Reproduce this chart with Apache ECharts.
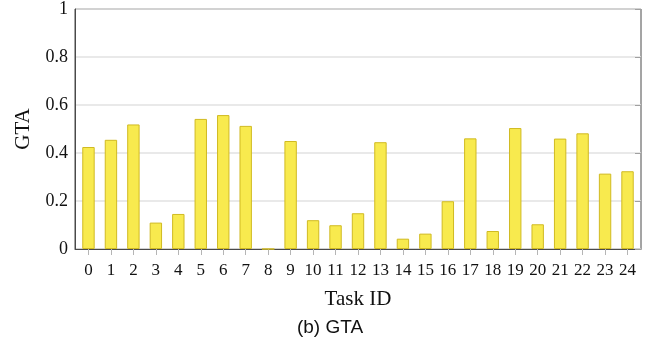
<!DOCTYPE html>
<html>
<head>
<meta charset="utf-8">
<script src="https://cdn.jsdelivr.net/npm/echarts@6/dist/echarts.min.js"></script>
<style>
  html, body { margin: 0; padding: 0; background: #fff; }
  #chart { width: 649px; height: 353px; }
</style>
</head>
<body>
<div id="chart"></div>
<script>
// Task identifiers along the x axis
const taskIds = [0, 1, 2, 3, 4, 5, 6, 7, 8, 9, 10, 11, 12, 13, 14, 15, 16, 17, 18, 19, 20, 21, 22, 23, 24];
// GTA score per task
const gtaValues = [0.425, 0.455, 0.519, 0.110, 0.146, 0.542, 0.558, 0.513, 0.000, 0.450,
                   0.120, 0.099, 0.149, 0.445, 0.043, 0.064, 0.199, 0.461, 0.075, 0.504,
                   0.103, 0.460, 0.482, 0.314, 0.324];
// y-axis tick values
const yTicks = [0, 0.2, 0.4, 0.6, 0.8, 1];

const serif = '"Liberation Serif", "DejaVu Serif", serif';
const frameColor = '#4a4a4a';

const chart = echarts.init(document.getElementById('chart'), null, { renderer: 'canvas' });

chart.setOption({
  animation: false,
  backgroundColor: '#ffffff',
  grid: {
    left: 75, right: 8, top: 9, bottom: 104,
    show: true, borderColor: frameColor, borderWidth: 1, backgroundColor: 'transparent'
  },
  xAxis: {
    type: 'value',
    min: -0.6,
    max: 24.6,
    name: 'Task ID',
    nameLocation: 'middle',
    nameGap: 40,
    nameTextStyle: { fontFamily: serif, fontSize: 21, color: '#111' },
    axisLine: { show: true, onZero: false, lineStyle: { color: frameColor, width: 1 } },
    axisTick: {
      show: true, inside: false, length: 6,
      customValues: taskIds,
      lineStyle: { color: '#b5b5b5', width: 1 }
    },
    axisLabel: {
      customValues: taskIds,
      margin: 13,
      fontFamily: serif, fontSize: 17, color: '#111'
    },
    splitLine: { show: false }
  },
  yAxis: [{
    type: 'value',
    min: 0, max: 1, interval: 0.2,
    name: 'GTA',
    nameLocation: 'middle',
    nameRotate: 90,
    nameGap: 41,
    nameTextStyle: { fontFamily: serif, fontSize: 21, color: '#111' },
    axisLine: { show: true, onZero: false, lineStyle: { color: frameColor, width: 1 } },
    axisTick: { show: false },
    axisLabel: {
      margin: 7,
      fontFamily: serif, fontSize: 18, color: '#111',
      formatter: v => (yTicks.includes(+v.toFixed(1)) ? String(+v.toFixed(1)) : '')
    },
    splitLine: { show: true, lineStyle: { color: '#e2e2e2', width: 1.5 } }
  }, {
    type: 'value',
    position: 'right',
    min: 0, max: 1, interval: 0.2,
    axisLine: { show: false, onZero: false },
    axisTick: { show: true, inside: true, length: 6, lineStyle: { color: '#a0a0a0', width: 1 } },
    axisLabel: { show: false },
    splitLine: { show: false }
  }],
  series: [{
    type: 'bar',
    yAxisIndex: 0,
    barWidth: 12.4,
    data: taskIds.map((id, i) => [id, gtaValues[i]]),
    itemStyle: { color: '#f8ea4e', borderColor: '#d0ba22', borderWidth: 1 },
    emphasis: { disabled: true }
  }],
  graphic: [{
    type: 'text',
    x: 330, y: 328,
    style: {
      text: '(b) GTA',
      font: '19px "Liberation Sans", Arial, sans-serif',
      fill: '#111',
      textAlign: 'center',
      textVerticalAlign: 'middle'
    }
  }]
});
</script>
</body>
</html>
